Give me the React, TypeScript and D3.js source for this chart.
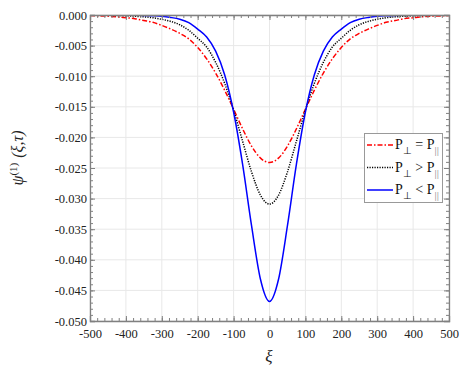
import React, { useEffect, useRef } from 'react'
import * as d3 from 'd3'

// xi grid (step 25) and the three curves
const xi = [-500, -475, -450, -425, -400, -375, -350, -325, -300, -275, -250, -225, -200, -175, -150, -125, -100, -75, -50, -25,
  0, 25, 50, 75, 100, 125, 150, 175, 200, 225, 250, 275, 300, 325, 350, 375, 400, 425, 450, 475, 500]

const psiEqual = [-0.0001, -0.00015, -0.0002, -0.0003, -0.00045, -0.0006, -0.0009, -0.0012, -0.0017, -0.0023, -0.0030, -0.00389, -0.00531, -0.00716, -0.00949, -0.01228, -0.0154, -0.01859, -0.02142, -0.02339,
  -0.0241, -0.02339, -0.02142, -0.01859, -0.0154, -0.01228, -0.00949, -0.00716, -0.00531, -0.00389, -0.0030, -0.0023, -0.0017, -0.0012, -0.0009, -0.0006, -0.00045, -0.0003, -0.0002, -0.00015, -0.0001]

const psiGreater = [-0.00002, -0.00003, -0.00005, -0.00008, -0.00013, -0.0002, -0.0003, -0.00045, -0.0007, -0.00105, -0.0016, -0.0025, -0.0038, -0.00524, -0.00774, -0.01116, -0.01554, -0.02062, -0.02564, -0.02946,
  -0.0309, -0.02946, -0.02564, -0.02062, -0.01554, -0.01116, -0.00774, -0.00524, -0.0038, -0.0025, -0.0016, -0.00105, -0.0007, -0.00045, -0.0003, -0.0002, -0.00013, -0.00008, -0.00005, -0.00003, -0.00002]

const psiLess = [0, 0, -0.00001, -0.00001, -0.00002, -0.00004, -0.00007, -0.00012, -0.0002, -0.0004, -0.0007, -0.00125, -0.0023, -0.0036, -0.0059, -0.00975, -0.01585, -0.02437, -0.03443, -0.04322,
  -0.0468, -0.04322, -0.03443, -0.02437, -0.01585, -0.00975, -0.0059, -0.0036, -0.0023, -0.00125, -0.0007, -0.0004, -0.0002, -0.00012, -0.00007, -0.00004, -0.00002, -0.00001, -0.00001, 0, 0]

const xTicks = [-500, -400, -300, -200, -100, 0, 100, 200, 300, 400, 500]
const yTicks = [0, -0.005, -0.01, -0.015, -0.02, -0.025, -0.03, -0.035, -0.04, -0.045, -0.05]

const seriesNames = ['=', '>', '<']

const SERIF = 'Liberation Serif, Times New Roman, serif'

export default function App() {
  const svgRef = useRef<SVGSVGElement>(null)

  useEffect(() => {
    const W = 463, H = 377
    const margin = { top: 15, right: 14, bottom: 56, left: 90 }
    const w = W - margin.left - margin.right
    const h = H - margin.top - margin.bottom

    const svg = d3.select(svgRef.current)
    svg.selectAll('*').remove()
    const g = svg.append('g').attr('transform', `translate(${margin.left},${margin.top})`)

    const x = d3.scaleLinear().domain([-500, 500]).range([0, w])
    const y = d3.scaleLinear().domain([-0.05, 0]).range([h, 0])

    const xMinor = d3.range(-500, 501, 20)
    const yMinor = d3.range(0, 51).map(i => -i / 1000)
    const fmtY = (d: number) => d3.format('.3f')(d).replace('\u2212', '-')
    const fmtX = (d: number) => String(d)

    // grid
    g.append('g').selectAll('line').data(xTicks).join('line')
      .attr('x1', d => x(d)).attr('x2', d => x(d)).attr('y1', 0).attr('y2', h)
      .attr('stroke', '#e8e8e8')
    g.append('g').selectAll('line').data(yTicks).join('line')
      .attr('y1', d => y(d)).attr('y2', d => y(d)).attr('x1', 0).attr('x2', w)
      .attr('stroke', '#e8e8e8')

    // curves
    g.append('clipPath').attr('id', 'plotclip').append('rect').attr('width', w).attr('height', h)
    const line = d3.line<number>().x((_, i) => x(xi[i])).y(d => y(d)).curve(d3.curveMonotoneX)
    const styles = [
      { data: psiEqual, color: '#ff0000', dash: '5,2,1.5,2' },
      { data: psiGreater, color: '#000000', dash: '1.2,1.3' },
      { data: psiLess, color: '#0000ff', dash: null },
    ]
    const curves = g.append('g').attr('clip-path', 'url(#plotclip)')
    styles.forEach(s => {
      curves.append('path').datum(s.data).attr('fill', 'none')
        .attr('stroke', s.color).attr('stroke-width', 1.5)
        .attr('stroke-dasharray', s.dash)
        .attr('d', line)
    })

    // axes
    const axisColor = '#808080'
    const styleAxis = (sel: any) => {
      sel.attr('font-family', SERIF).attr('font-size', 12.5)
      sel.selectAll('path.domain').attr('stroke', axisColor).attr('stroke-width', 1.3)
      sel.selectAll('.tick line').attr('stroke', axisColor)
      sel.selectAll('.tick text').attr('fill', '#222')
    }
    const bottom = g.append('g').attr('transform', `translate(0,${h})`)
    bottom.call(d3.axisBottom(x).tickValues(xTicks).tickSize(-5).tickPadding(8).tickFormat(fmtX as any))
    bottom.append('g').call(d3.axisBottom(x).tickValues(xMinor).tickSize(-3).tickFormat(() => ''))
      .select('.domain').remove()
    styleAxis(bottom)

    const top = g.append('g')
    top.call(d3.axisTop(x).tickValues(xTicks).tickSize(-5).tickFormat(() => ''))
    top.append('g').call(d3.axisTop(x).tickValues(xMinor).tickSize(-3).tickFormat(() => ''))
      .select('.domain').remove()
    styleAxis(top)

    const left = g.append('g')
    left.call(d3.axisLeft(y).tickValues(yTicks).tickSize(-5).tickPadding(3).tickFormat(fmtY as any))
    left.append('g').call(d3.axisLeft(y).tickValues(yMinor).tickSize(-3).tickFormat(() => ''))
      .select('.domain').remove()
    styleAxis(left)

    const right = g.append('g').attr('transform', `translate(${w},0)`)
    right.call(d3.axisRight(y).tickValues(yTicks).tickSize(-5).tickFormat(() => ''))
    right.append('g').call(d3.axisRight(y).tickValues(yMinor).tickSize(-3).tickFormat(() => ''))
      .select('.domain').remove()
    styleAxis(right)

    // axis titles
    svg.append('text').attr('x', 269).attr('y', 362).attr('text-anchor', 'middle')
      .attr('font-family', SERIF).attr('font-size', 17)
      .attr('font-style', 'italic').attr('fill', '#222').text('ξ')

    const yl = svg.append('text').attr('transform', 'translate(23,158) rotate(-90)')
      .attr('text-anchor', 'middle')
      .attr('font-family', SERIF).attr('font-size', 16).attr('fill', '#222')
    yl.append('tspan').attr('font-style', 'italic').text('ψ')
    yl.append('tspan').attr('dy', -6).attr('font-size', 11).text('(1)')
    yl.append('tspan').attr('dy', 6).attr('dx', 5).attr('font-style', 'italic').text('(ξ,τ)')

    // legend
    const lg = svg.append('g')
    lg.append('rect').attr('x', 364.5).attr('y', 133.5).attr('width', 78).attr('height', 69)
      .attr('fill', '#fff').attr('stroke', '#999').attr('stroke-width', 1)
    styles.forEach((s, i) => {
      const cy = 145 + i * 22.5
      lg.append('line').attr('x1', 367).attr('x2', 393).attr('y1', cy).attr('y2', cy)
        .attr('stroke', s.color).attr('stroke-width', 1.5).attr('stroke-dasharray', s.dash)
      const t = lg.append('text').attr('x', 395).attr('y', cy + 4)
        .attr('font-family', SERIF).attr('font-size', 14).attr('fill', '#111')
      t.append('tspan').text('P')
      t.append('tspan').attr('dy', 5).attr('font-size', 10).text('⊥')
      t.append('tspan').attr('dy', -5).text(` ${seriesNames[i]} P`)
      t.append('tspan').attr('dy', 5).attr('font-size', 11).attr('fill', '#888').text('||')
    })
  }, [])

  return (
    <div style={{ position: 'absolute', left: 0, top: 0 }}>
      <svg ref={svgRef} width={463} height={377}></svg>
    </div>
  )
}
